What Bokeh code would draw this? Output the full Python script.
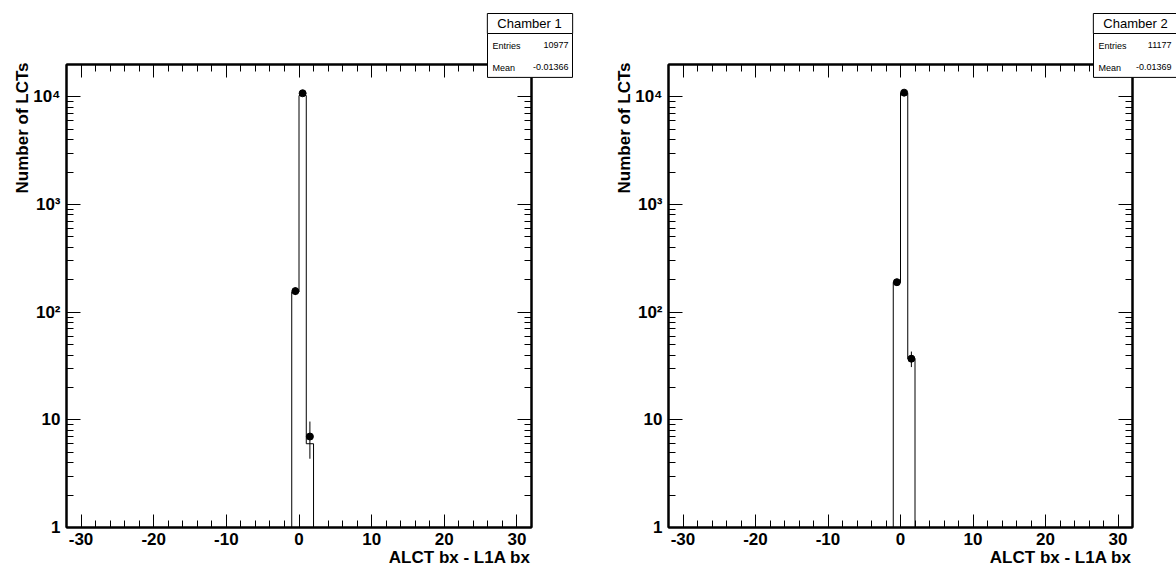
import math
import numpy as np
from bokeh.plotting import figure
from bokeh.layouts import row
from bokeh.models import (FixedTicker, LinearAxis, LogAxis, Label,
                          CustomJSTickFormatter, Range1d)
from bokeh.embed import file_html
from bokeh.resources import INLINE

# ---------------- data ----------------
bin_edges = [-1, 0, 1, 2]
bin_centers = [-0.5, 0.5, 1.5]
ch1_hist = [154, 10300, 6]
ch1_points = [157, 10813, 7]
ch2_hist = [189, 10850, 37]
ch2_points = [190, 10950, 37]
titles = ["Chamber 1", "Chamber 2"]
entries = ["10977", "11177"]
means = ["-0.01366", "-0.01369"]
stat_names = ["Entries", "Mean"]
x_major = [-30, -20, -10, 0, 10, 20, 30]
x_minor = list(range(-32, 33, 2))
y_major = [1, 10, 100, 1000, 10000]
y_major_labels = ["1", "10", "10\u00b2", "10\u00b3", "10\u2074"]
y_minor = [m * d for d in [1, 10, 100, 1000, 10000] for m in range(2, 10)]
x_title = "ALCT bx - L1A bx"
y_title = "Number of LCTs"
X_LO, X_HI = -32, 32
Y_LO, Y_HI = 1, 2.0e4

FONT = "Liberation Sans"
FIG_W, FIG_H = 588, 577
TOP, BOTTOM = 64, 527
LINE_H = 2.29   # stat rows ~23 px apart at 9px


def make_panel(hist, pts, title, n_entries, mean, L, R, box, val_right):
    W = R - L
    H = BOTTOM - TOP

    def xd(px):
        return X_LO + (px - L) / W * (X_HI - X_LO)

    def yd(py):
        lo, hi = math.log10(Y_LO), math.log10(Y_HI)
        return 10 ** (lo + (BOTTOM - py) / H * (hi - lo))

    p = figure(width=FIG_W, height=FIG_H, x_range=Range1d(X_LO, X_HI),
               y_range=Range1d(Y_LO, Y_HI), y_axis_type="log",
               output_backend="svg", toolbar_location=None,
               min_border_left=L, min_border_right=FIG_W - R,
               min_border_top=TOP, min_border_bottom=FIG_H - BOTTOM)
    p.xgrid.visible = False
    p.ygrid.visible = False
    p.outline_line_color = "black"
    p.outline_line_width = 2
    p.background_fill_color = "white"
    p.border_fill_color = "white"

    yfmt = CustomJSTickFormatter(args=dict(t=y_major, l=y_major_labels), code="""
        const r = Math.round(tick);
        const i = t.indexOf(r);
        return i >= 0 ? l[i] : "";
    """)
    xfmt = CustomJSTickFormatter(code="return Math.round(tick).toString();")
    blank = CustomJSTickFormatter(code="return '';")

    def style(ax, major_len, minor_len):
        ax.major_tick_in = major_len
        ax.major_tick_out = 0
        ax.minor_tick_in = minor_len
        ax.minor_tick_out = 0
        ax.axis_line_width = 2
        ax.axis_line_color = "black"
        ax.major_tick_line_color = "black"
        ax.minor_tick_line_color = "black"
        ax.major_label_text_font = FONT
        ax.major_label_text_font_style = "bold"
        ax.major_label_text_font_size = "17px"
        ax.major_label_text_color = "black"

    xb = p.xaxis[0]
    xb.ticker = FixedTicker(ticks=x_major, minor_ticks=x_minor)
    xb.formatter = xfmt
    style(xb, 13, 7)
    xb.major_label_standoff = 5

    yl = p.yaxis[0]
    yl.ticker = FixedTicker(ticks=y_major, minor_ticks=y_minor)
    yl.formatter = yfmt
    style(yl, 14, 7)
    yl.major_label_standoff = 6

    xt = LinearAxis(ticker=FixedTicker(ticks=x_major, minor_ticks=x_minor), formatter=blank)
    style(xt, 13, 7)
    xt.major_label_standoff = 0
    p.add_layout(xt, "above")

    yr = LogAxis(ticker=FixedTicker(ticks=y_major, minor_ticks=y_minor), formatter=blank)
    style(yr, 14, 7)
    yr.major_label_standoff = 0
    p.add_layout(yr, "right")

    # histogram outline
    sx = [bin_edges[0]] + list(bin_edges)
    sy = [Y_LO] + list(hist) + [Y_LO]
    p.step(x=sx, y=sy, mode="after", line_color="black", line_width=1)

    # points with errors
    v = np.array(pts, dtype=float)
    err = np.sqrt(v)
    p.segment(x0=bin_centers, y0=v - err, x1=bin_centers, y1=v + err,
              line_color="black", line_width=1)
    p.scatter(x=bin_centers, y=pts, size=7, color="black")

    # texts live in side panels so they are not clipped to the frame
    bl, br, bt, bsep, bb = box
    txt = dict(text_font=FONT, text_color="black")
    boxstyle = dict(background_fill_color="white", background_fill_alpha=1.0,
                    border_line_color="black", border_line_width=1, border_line_alpha=1.0)

    # axis titles
    p.add_layout(Label(x=xd(R - 1), y=yd(557), text=x_title, text_align="right",
                       text_baseline="middle", text_font_style="bold",
                       text_font_size="17px", **txt), "below")
    p.add_layout(Label(x=xd(L - 44), y=yd(62), text=y_title, text_align="right",
                       text_baseline="middle", angle=math.pi / 2, text_font_style="bold",
                       text_font_size="17px", **txt), "left")

    # stat box: header + body (box drawn by the labels' border/background)
    head_w = 64
    hp = int((br - bl - head_w) / 2)
    p.add_layout(Label(x=xd((bl + br) / 2), y=yd((bt + bsep) / 2), text=title,
                       text_align="center", text_baseline="middle", text_font_size="13px",
                       padding=dict(left=hp, right=br - bl - head_w - hp, top=2, bottom=3),
                       **boxstyle, **txt), "above")
    p.add_layout(Label(x=xd(bl), y=yd(bsep), text="\n".join(stat_names),
                       text_align="left", text_baseline="top", text_font_size="9px",
                       text_line_height=LINE_H,
                       padding=dict(left=5, right=br - bl - 5 - 28, top=7, bottom=4),
                       **boxstyle, **txt), "above")
    p.add_layout(Label(x=xd(val_right), y=yd((bsep + bb) / 2 + 0.5),
                       text="\n".join([n_entries, mean]),
                       text_align="right", text_baseline="middle", text_font_size="9px",
                       text_line_height=LINE_H, **txt), "right")
    return p


p1 = make_panel(ch1_hist, ch1_points, titles[0], entries[0], means[0],
                L=66, R=531, box=(487, 572, 13, 33, 77), val_right=568)
p2 = make_panel(ch2_hist, ch2_points, titles[1], entries[1], means[1],
                L=80, R=544, box=(505, 590, 13, 33, 77), val_right=583)

layout = row(p1, p2)
open("out.html", "w").write(file_html(layout, INLINE))
